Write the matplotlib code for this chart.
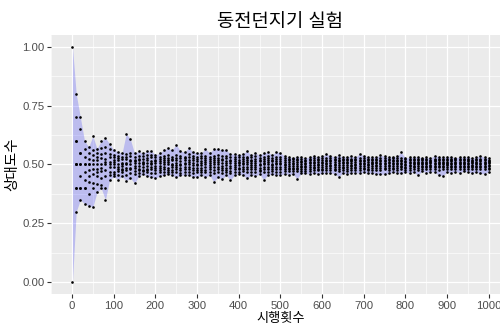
import matplotlib
matplotlib.use("Agg")
import matplotlib.pyplot as plt
from matplotlib.ticker import MultipleLocator
import numpy as np

plt.rcParams['font.family'] = ['Liberation Sans', 'Noto Sans CJK KR', 'DejaVu Sans']

title = "동전던지기 실험"
x_label = "시행횟수"
y_label = "상대도수"

trials = [1] + list(range(10, 1001, 10))

rel_freq = [
    [1.0, 0.0],
    [0.8, 0.7, 0.6, 0.5, 0.4, 0.3, 0.5, 0.6, 0.4, 0.5],
    [0.7, 0.65, 0.55, 0.5, 0.45, 0.4, 0.35, 0.4, 0.55, 0.5],
    [0.6, 0.567, 0.533, 0.5, 0.467, 0.433, 0.4, 0.333, 0.4, 0.5],
    [0.575, 0.55, 0.525, 0.5, 0.475, 0.45, 0.425, 0.375, 0.325, 0.5],
    [0.62, 0.56, 0.54, 0.52, 0.5, 0.48, 0.46, 0.42, 0.4, 0.32],
    [0.567, 0.55, 0.533, 0.517, 0.5, 0.483, 0.467, 0.45, 0.417, 0.383],
    [0.6, 0.571, 0.543, 0.529, 0.5, 0.486, 0.471, 0.443, 0.414, 0.4],
    [0.6125, 0.575, 0.55, 0.525, 0.5125, 0.5, 0.475, 0.45, 0.4, 0.35],
    [0.589, 0.567, 0.544, 0.533, 0.511, 0.5, 0.489, 0.467, 0.456, 0.433],
    [0.56, 0.54, 0.53, 0.52, 0.51, 0.5, 0.49, 0.47, 0.46, 0.45],
    [0.555, 0.536, 0.527, 0.518, 0.5, 0.491, 0.482, 0.473, 0.455, 0.436],
    [0.547, 0.533, 0.525, 0.508, 0.5, 0.492, 0.483, 0.475, 0.467, 0.45],
    [0.631, 0.546, 0.531, 0.523, 0.508, 0.5, 0.485, 0.477, 0.454, 0.431],
    [0.607, 0.55, 0.536, 0.521, 0.514, 0.5, 0.486, 0.479, 0.464, 0.443],
    [0.547, 0.533, 0.52, 0.513, 0.507, 0.493, 0.487, 0.473, 0.46, 0.42],
    [0.556, 0.538, 0.525, 0.519, 0.506, 0.494, 0.481, 0.475, 0.463, 0.45],
    [0.547, 0.535, 0.524, 0.512, 0.506, 0.5, 0.488, 0.476, 0.471, 0.459],
    [0.556, 0.539, 0.528, 0.517, 0.506, 0.494, 0.483, 0.478, 0.467, 0.45],
    [0.558, 0.542, 0.532, 0.516, 0.505, 0.5, 0.489, 0.479, 0.463, 0.447],
    [0.54, 0.53, 0.52, 0.515, 0.505, 0.495, 0.485, 0.475, 0.465, 0.441],
    [0.548, 0.533, 0.524, 0.514, 0.505, 0.495, 0.486, 0.476, 0.467, 0.452],
    [0.561, 0.536, 0.527, 0.518, 0.509, 0.5, 0.491, 0.482, 0.468, 0.455],
    [0.569, 0.539, 0.526, 0.517, 0.509, 0.5, 0.487, 0.478, 0.47, 0.461],
    [0.561, 0.533, 0.525, 0.517, 0.504, 0.496, 0.488, 0.475, 0.467, 0.454],
    [0.584, 0.54, 0.528, 0.52, 0.508, 0.496, 0.488, 0.48, 0.468, 0.446],
    [0.558, 0.535, 0.527, 0.515, 0.504, 0.496, 0.485, 0.477, 0.465, 0.454],
    [0.552, 0.533, 0.526, 0.519, 0.507, 0.5, 0.489, 0.481, 0.47, 0.456],
    [0.571, 0.543, 0.532, 0.521, 0.511, 0.5, 0.489, 0.479, 0.468, 0.454],
    [0.552, 0.538, 0.528, 0.517, 0.507, 0.497, 0.486, 0.476, 0.466, 0.448],
    [0.55, 0.533, 0.523, 0.513, 0.503, 0.497, 0.487, 0.477, 0.467, 0.448],
    [0.548, 0.535, 0.526, 0.516, 0.506, 0.497, 0.487, 0.477, 0.468, 0.455],
    [0.566, 0.538, 0.528, 0.519, 0.509, 0.5, 0.491, 0.478, 0.469, 0.447],
    [0.55, 0.533, 0.524, 0.515, 0.506, 0.497, 0.488, 0.479, 0.47, 0.455],
    [0.565, 0.535, 0.526, 0.518, 0.509, 0.5, 0.488, 0.476, 0.465, 0.427],
    [0.566, 0.54, 0.529, 0.52, 0.511, 0.5, 0.489, 0.48, 0.469, 0.446],
    [0.561, 0.536, 0.525, 0.517, 0.506, 0.494, 0.486, 0.475, 0.464, 0.439],
    [0.562, 0.538, 0.527, 0.516, 0.508, 0.497, 0.486, 0.478, 0.468, 0.454],
    [0.545, 0.532, 0.521, 0.513, 0.505, 0.495, 0.484, 0.474, 0.463, 0.434],
    [0.544, 0.531, 0.523, 0.515, 0.505, 0.497, 0.49, 0.479, 0.469, 0.455],
    [0.54, 0.53, 0.52, 0.512, 0.505, 0.497, 0.487, 0.48, 0.47, 0.46],
    [0.545, 0.532, 0.524, 0.515, 0.507, 0.5, 0.49, 0.481, 0.471, 0.455],
    [0.557, 0.533, 0.526, 0.519, 0.51, 0.5, 0.49, 0.481, 0.467, 0.441],
    [0.54, 0.53, 0.521, 0.514, 0.505, 0.498, 0.488, 0.479, 0.47, 0.457],
    [0.548, 0.534, 0.525, 0.516, 0.507, 0.498, 0.489, 0.48, 0.468, 0.45],
    [0.54, 0.529, 0.52, 0.513, 0.504, 0.496, 0.487, 0.478, 0.471, 0.46],
    [0.548, 0.533, 0.524, 0.515, 0.507, 0.5, 0.489, 0.48, 0.467, 0.435],
    [0.551, 0.534, 0.526, 0.517, 0.509, 0.5, 0.491, 0.483, 0.47, 0.457],
    [0.54, 0.529, 0.521, 0.513, 0.504, 0.496, 0.488, 0.479, 0.471, 0.458],
    [0.553, 0.533, 0.524, 0.516, 0.508, 0.5, 0.49, 0.482, 0.469, 0.455],
    [0.55, 0.532, 0.524, 0.516, 0.508, 0.5, 0.49, 0.482, 0.47, 0.456],
    [0.535, 0.527, 0.518, 0.51, 0.502, 0.496, 0.488, 0.48, 0.473, 0.46],
    [0.53, 0.523, 0.517, 0.51, 0.502, 0.494, 0.487, 0.479, 0.471, 0.457],
    [0.529, 0.523, 0.515, 0.508, 0.502, 0.494, 0.487, 0.481, 0.472, 0.46],
    [0.533, 0.524, 0.517, 0.509, 0.502, 0.494, 0.487, 0.48, 0.472, 0.44],
    [0.53, 0.524, 0.516, 0.509, 0.502, 0.495, 0.489, 0.482, 0.473, 0.462],
    [0.527, 0.521, 0.514, 0.507, 0.5, 0.495, 0.488, 0.482, 0.473, 0.462],
    [0.532, 0.525, 0.518, 0.511, 0.505, 0.496, 0.489, 0.482, 0.474, 0.46],
    [0.537, 0.528, 0.519, 0.512, 0.505, 0.498, 0.491, 0.484, 0.476, 0.465],
    [0.531, 0.524, 0.517, 0.51, 0.503, 0.497, 0.49, 0.483, 0.475, 0.46],
    [0.535, 0.527, 0.518, 0.512, 0.505, 0.498, 0.49, 0.483, 0.475, 0.462],
    [0.543, 0.528, 0.52, 0.513, 0.507, 0.5, 0.492, 0.485, 0.477, 0.466],
    [0.538, 0.527, 0.519, 0.513, 0.506, 0.498, 0.492, 0.484, 0.477, 0.465],
    [0.532, 0.524, 0.517, 0.51, 0.503, 0.497, 0.49, 0.483, 0.475, 0.46],
    [0.539, 0.527, 0.52, 0.513, 0.506, 0.498, 0.491, 0.483, 0.472, 0.448],
    [0.53, 0.523, 0.517, 0.511, 0.505, 0.498, 0.491, 0.485, 0.477, 0.465],
    [0.533, 0.524, 0.518, 0.511, 0.505, 0.497, 0.491, 0.483, 0.474, 0.46],
    [0.535, 0.525, 0.519, 0.513, 0.506, 0.499, 0.493, 0.485, 0.477, 0.465],
    [0.53, 0.524, 0.518, 0.512, 0.504, 0.497, 0.491, 0.485, 0.477, 0.466],
    [0.545, 0.528, 0.52, 0.513, 0.507, 0.5, 0.494, 0.486, 0.478, 0.462],
    [0.537, 0.526, 0.52, 0.513, 0.507, 0.5, 0.494, 0.487, 0.479, 0.467],
    [0.532, 0.524, 0.517, 0.511, 0.504, 0.497, 0.49, 0.483, 0.476, 0.462],
    [0.53, 0.524, 0.518, 0.511, 0.506, 0.5, 0.493, 0.486, 0.478, 0.465],
    [0.532, 0.525, 0.518, 0.512, 0.505, 0.499, 0.493, 0.486, 0.477, 0.46],
    [0.539, 0.527, 0.52, 0.514, 0.507, 0.5, 0.493, 0.486, 0.476, 0.458],
    [0.535, 0.527, 0.52, 0.513, 0.507, 0.5, 0.493, 0.487, 0.479, 0.46],
    [0.53, 0.524, 0.518, 0.512, 0.505, 0.499, 0.492, 0.486, 0.478, 0.462],
    [0.533, 0.526, 0.519, 0.513, 0.506, 0.5, 0.494, 0.487, 0.479, 0.467],
    [0.534, 0.526, 0.519, 0.513, 0.506, 0.5, 0.494, 0.487, 0.478, 0.465],
    [0.551, 0.528, 0.521, 0.515, 0.508, 0.501, 0.495, 0.489, 0.48, 0.462],
    [0.528, 0.522, 0.516, 0.51, 0.504, 0.498, 0.491, 0.485, 0.478, 0.468],
    [0.53, 0.523, 0.517, 0.511, 0.505, 0.499, 0.493, 0.486, 0.478, 0.463],
    [0.531, 0.524, 0.518, 0.512, 0.506, 0.5, 0.494, 0.488, 0.48, 0.468],
    [0.532, 0.524, 0.518, 0.512, 0.506, 0.5, 0.493, 0.487, 0.477, 0.455],
    [0.528, 0.522, 0.517, 0.511, 0.505, 0.5, 0.494, 0.488, 0.481, 0.472],
    [0.53, 0.524, 0.518, 0.512, 0.506, 0.5, 0.494, 0.488, 0.479, 0.466],
    [0.527, 0.521, 0.515, 0.51, 0.505, 0.499, 0.493, 0.488, 0.481, 0.47],
    [0.538, 0.525, 0.519, 0.513, 0.507, 0.501, 0.495, 0.489, 0.481, 0.468],
    [0.532, 0.524, 0.518, 0.512, 0.506, 0.5, 0.494, 0.488, 0.478, 0.455],
    [0.53, 0.523, 0.517, 0.512, 0.506, 0.5, 0.494, 0.488, 0.479, 0.453],
    [0.532, 0.524, 0.518, 0.512, 0.507, 0.501, 0.496, 0.49, 0.481, 0.468],
    [0.533, 0.525, 0.519, 0.513, 0.507, 0.501, 0.495, 0.489, 0.48, 0.466],
    [0.528, 0.522, 0.517, 0.511, 0.505, 0.5, 0.495, 0.489, 0.482, 0.47],
    [0.532, 0.524, 0.518, 0.512, 0.506, 0.5, 0.494, 0.488, 0.479, 0.465],
    [0.53, 0.523, 0.517, 0.512, 0.506, 0.501, 0.495, 0.49, 0.482, 0.471],
    [0.532, 0.524, 0.518, 0.513, 0.507, 0.501, 0.495, 0.489, 0.481, 0.468],
    [0.527, 0.521, 0.516, 0.51, 0.505, 0.499, 0.494, 0.488, 0.48, 0.465],
    [0.53, 0.523, 0.517, 0.512, 0.506, 0.5, 0.495, 0.489, 0.481, 0.468],
    [0.538, 0.525, 0.519, 0.513, 0.507, 0.501, 0.495, 0.489, 0.48, 0.462],
    [0.53, 0.523, 0.517, 0.512, 0.506, 0.5, 0.494, 0.488, 0.479, 0.461],
    [0.527, 0.521, 0.515, 0.51, 0.505, 0.499, 0.493, 0.487, 0.481, 0.47],
]

x_ticks = [0, 100, 200, 300, 400, 500, 600, 700, 800, 900, 1000]
y_ticks = [0.00, 0.25, 0.50, 0.75, 1.00]
y_tick_labels = ["0.00", "0.25", "0.50", "0.75", "1.00"]

fig = plt.figure(figsize=(5.0, 3.24), dpi=100)
W, H = 500.0, 324.0
left_px, right_px, top_px, bottom_px = 51.2, 509.5, 34.9, 294.1
ax = fig.add_axes([left_px / W, 1 - bottom_px / H, (right_px - left_px) / W, (bottom_px - top_px) / H])
ax.set_facecolor('#EBEBEB')

lo = [min(v) for v in rel_freq]
hi = [max(v) for v in rel_freq]
ax.fill_between(trials, lo, hi, color='blue', alpha=0.2, linewidth=0, zorder=2)

px, py = [], []
for n, vals in zip(trials, rel_freq):
    for v in vals:
        px.append(n)
        py.append(v)
ax.scatter(px, py, s=3.6, color='black', linewidths=0, zorder=3)

ax.set_xlim(-50, 1050)
ax.set_ylim(-0.05, 1.05)
ax.set_xticks(x_ticks)
ax.set_yticks(y_ticks)
ax.set_yticklabels(y_tick_labels)
ax.xaxis.set_minor_locator(MultipleLocator(50))
ax.yaxis.set_minor_locator(MultipleLocator(0.125))
ax.grid(which='major', color='white', linewidth=0.9, zorder=0)
ax.grid(which='minor', color='white', linewidth=0.45, zorder=0)
ax.set_axisbelow(True)
for s in ax.spines.values():
    s.set_visible(False)
ax.tick_params(which='major', length=3, width=0.8, color='#333333', labelsize=8.2, labelcolor='#4D4D4D', pad=2)
ax.tick_params(which='minor', length=0)

ax.set_title(title, fontsize=13.5, color='black', pad=6)
ax.set_ylabel(y_label, fontsize=10.5, labelpad=2)
fig.text((left_px + right_px) / 2 / W, 2.0 / H, x_label, fontsize=9.5, ha='center', va='baseline')

fig.savefig('out.png', dpi=100)
